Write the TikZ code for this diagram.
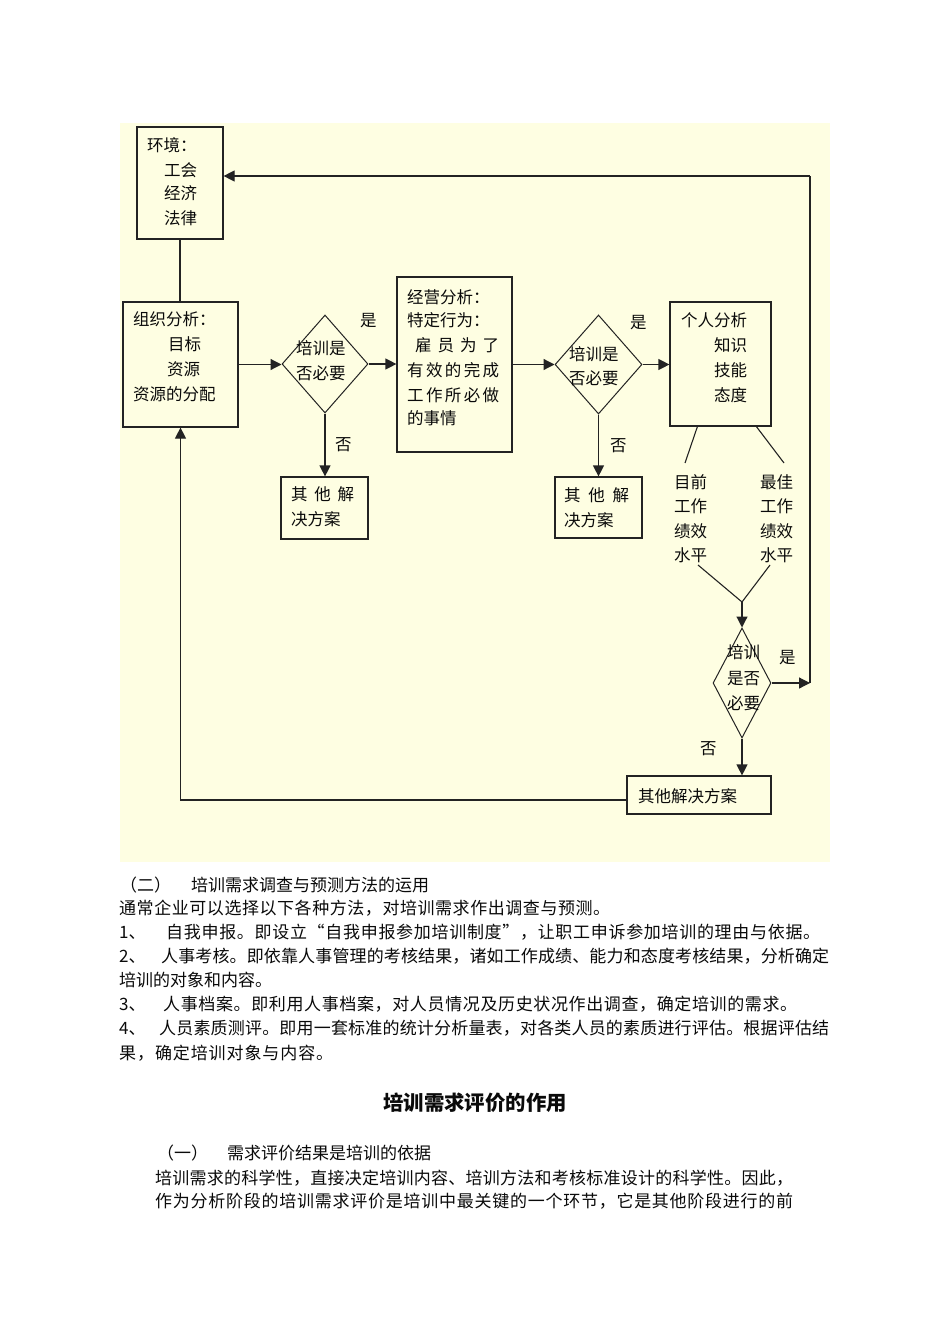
\documentclass[tikz,border=0pt]{standalone}
\usepackage{fontspec}
\setmainfont{Noto Sans CJK SC}
\usetikzlibrary{arrows.meta,shapes.geometric}
\definecolor{bgyel}{RGB}{254,254,226}
\definecolor{lncol}{RGB}{35,35,35}
\definecolor{txcol}{RGB}{10,10,10}
\makeatletter
\def\jl@a#1{#1\jl@b}
\def\jl@b#1{\ifx\relax#1\else\hfil#1\expandafter\jl@b\fi}
\newcommand\jline[2]{\makebox[#1][s]{\jl@a#2\relax}}
\makeatother
\newcommand\dfont{\fontsize{16.5bp}{20bp}\selectfont}
\newcommand\bfont{\fontsize{17bp}{21bp}\selectfont}
\newcommand\hfont{\fontsize{20.4bp}{24bp}\selectfont\bfseries}
\tikzset{
  box/.style={draw=lncol, line width=1.2bp, rectangle, inner sep=0pt},
  dia/.style={draw=lncol, line width=1bp, diamond, inner sep=0pt},
  dt/.style={inner sep=0pt, anchor=west, text height=14.5bp, text depth=2bp, font=\dfont, text=txcol},
  bt/.style={inner sep=0pt, anchor=west, text height=15bp, text depth=2bp, font=\bfont, text=txcol},
  arr/.style={draw=lncol, line width=1.2bp, -{Triangle[length=11bp,width=11bp]}},
  plain/.style={draw=lncol, line width=1.1bp}
}
\begin{document}
\begin{tikzpicture}[x=1bp,y=-1bp]
\useasboundingbox (0,0) rectangle (950,1344);
\fill[white] (0,0) rectangle (950,1344);
\fill[bgyel] (120,123) rectangle (830,862);

% boxes and diamonds
\node[box, minimum width=86bp, minimum height=112bp] (env) at (180,183) {};
\node[box, minimum width=115bp, minimum height=125bp] (org) at (180.5,364.5) {};
\node[dia, minimum width=86bp, minimum height=98bp] (d1) at (325,364) {};
\node[box, minimum width=115bp, minimum height=175bp] (b2) at (454.5,364.5) {};
\node[dia, minimum width=87bp, minimum height=99bp] (d2) at (598.5,364.5) {};
\node[box, minimum width=101bp, minimum height=124bp] (b4) at (720.5,364) {};
\node[box, minimum width=87bp, minimum height=62bp] (b3a) at (324.5,508) {};
\node[box, minimum width=87bp, minimum height=61bp] (b3b) at (598.5,507.5) {};
\node[dia, minimum width=58bp, minimum height=110bp] (d3) at (742,683) {};
\node[box, minimum width=144bp, minimum height=38bp] (b5) at (699,795) {};

% texts in diagram
\node[dt] (envt1) at (147,145) {环境：};
\node[dt] (envt2) at (164,170) {工会};
\node[dt] (envt3) at (164,193) {经济};
\node[dt] (envt4) at (164,218) {法律};

\node[dt] (orgt1) at (133,319) {组织分析：};
\node[dt] (orgt2) at (168,344) {目标};
\node[dt] (orgt3) at (167,369) {资源};
\node[dt] (orgt4) at (133,394) {资源的分配};

\node[dt] (d1t1) at (296,348) {培训是};
\node[dt] (d1t2) at (296,373) {否必要};
\node[dt] (yes1) at (360,320) {是};
\node[dt] (no1) at (335,444) {否};

\node[dt] (b2t1) at (407,297) {经营分析：};
\node[dt] (b2t2) at (407,320) {特定行为：};
\node[dt] (b2t3) at (415,345) {\makebox[84bp][s]{雇\hfil 员\hfil 为\hfil 了}};
\node[dt] (b2t4) at (407,370) {\jline{92bp}{有效的完成}};
\node[dt] (b2t5) at (407,395) {\jline{92bp}{工作所必做}};
\node[dt] (b2t6) at (407,418) {的事情};

\node[dt] (b3at1) at (291,494) {\makebox[63bp][s]{其\hfil 他\hfil 解}};
\node[dt] (b3at2) at (291,519) {决方案};

\node[dt] (d2t1) at (569,354) {培训是};
\node[dt] (d2t2) at (569,378) {否必要};
\node[dt] (yes2) at (630,322) {是};
\node[dt] (no2) at (610,445) {否};

\node[dt] (b3bt1) at (564,495) {\makebox[65bp][s]{其\hfil 他\hfil 解}};
\node[dt] (b3bt2) at (564,520) {决方案};

\node[dt] (b4t1) at (681,320) {个人分析};
\node[dt] (b4t2) at (714,345) {知识};
\node[dt] (b4t3) at (714,370) {技能};
\node[dt] (b4t4) at (714,395) {态度};

\node[dt] (cl1) at (674,482) {目前};
\node[dt] (cl2) at (674,506) {工作};
\node[dt] (cl3) at (674,531) {绩效};
\node[dt] (cl4) at (674,555) {水平};
\node[dt] (cr1) at (760,482) {最佳};
\node[dt] (cr2) at (760,506) {工作};
\node[dt] (cr3) at (760,531) {绩效};
\node[dt] (cr4) at (760,555) {水平};

\node[dt] (d3t1) at (727,652) {培训};
\node[dt] (d3t2) at (727,678) {是否};
\node[dt] (d3t3) at (727,703) {必要};
\node[dt] (yes3) at (779,657) {是};
\node[dt] (no3) at (700,748) {否};

\node[dt] (b5t) at (638,796) {其他解决方案};

% connectors
\draw[plain] (env.south) -- (env.south |- org.north);
\draw[arr] (org.east) -- (org.east -| d1.west);
\draw[arr] (d1.east) -- (d1.east -| b2.west);
\draw[arr] (b2.east |- d2.west) -- (d2.west);
\draw[arr] (d2.east) -- (d2.east -| b4.west);
\draw[arr] (d1.south) -- (d1.south |- b3a.north);
\draw[arr] (d2.south) -- (d2.south |- b3b.north);

\coordinate (la) at (685,463);
\coordinate (ra) at (784,463);
\draw[plain] ([xshift=28bp]b4.south west) -- (la);
\draw[plain] ([xshift=87bp]b4.south west) -- (ra);

\coordinate (va) at (698,565);
\coordinate (vb) at (770,565);
\coordinate (vx) at (742,602);
\draw[plain] (va) -- (vx) -- (vb);
\draw[arr] (vx) -- (d3.north);
\draw[arr] (d3.south) -- (d3.south |- b5.north);

\coordinate (rv1) at (810,683);
\coordinate (rv2) at (810,176);
\draw[arr] (d3.east) -- (rv1);
\draw[plain] (rv1) -- (rv2);
\draw[arr] (rv2) -- (rv2 -| env.east);

\draw[arr] ([yshift=-5bp]b5.west) -| (org.south);

% body text
\node[bt] (p2) at (120,885) {（二）};
\node[bt] (t2) at (191,885) {培训需求调查与预测方法的运用};
\node[bt] (l2) at (119,908) {\jline{491bp}{通常企业可以选择以下各种方法，对培训需求作出调查与预测。}};
\node[bt] (n1) at (119,932) {1、};
\node[bt] (l3) at (166,932) {\jline{654bp}{自我申报。即设立“自我申报参加培训制度”，让职工申诉参加培训的理由与依据。}};
\node[bt] (n2) at (119,956) {2、};
\node[bt] (l4) at (161,956) {\jline{668bp}{人事考核。即依靠人事管理的考核结果，诸如工作成绩、能力和态度考核结果，分析确定}};
\node[bt] (l5) at (119,980) {培训的对象和内容。};
\node[bt] (n3) at (119,1004) {3、};
\node[bt] (l6) at (163,1004) {\jline{634bp}{人事档案。即利用人事档案，对人员情况及历史状况作出调查，确定培训的需求。}};
\node[bt] (n4) at (119,1028) {4、};
\node[bt] (l7) at (159,1028) {\jline{670bp}{人员素质测评。即用一套标准的统计分析量表，对各类人员的素质进行评估。根据评估结}};
\node[bt] (l8) at (119,1053) {\jline{214bp}{果，确定培训对象与内容。}};

\node[inner sep=0pt, font=\hfont, text=txcol] (title) at (475,1103) {培训需求评价的作用};

\node[bt] (p1) at (157,1153) {（一）};
\node[bt] (t1) at (227,1153) {需求评价结果是培训的依据};
\node[bt] (m1) at (155,1178) {\jline{638bp}{培训需求的科学性，直接决定培训内容、培训方法和考核标准设计的科学性。因此，}};
\node[bt] (m2) at (155,1201) {\jline{638bp}{作为分析阶段的培训需求评价是培训中最关键的一个环节，它是其他阶段进行的前}};
\end{tikzpicture}
\end{document}
